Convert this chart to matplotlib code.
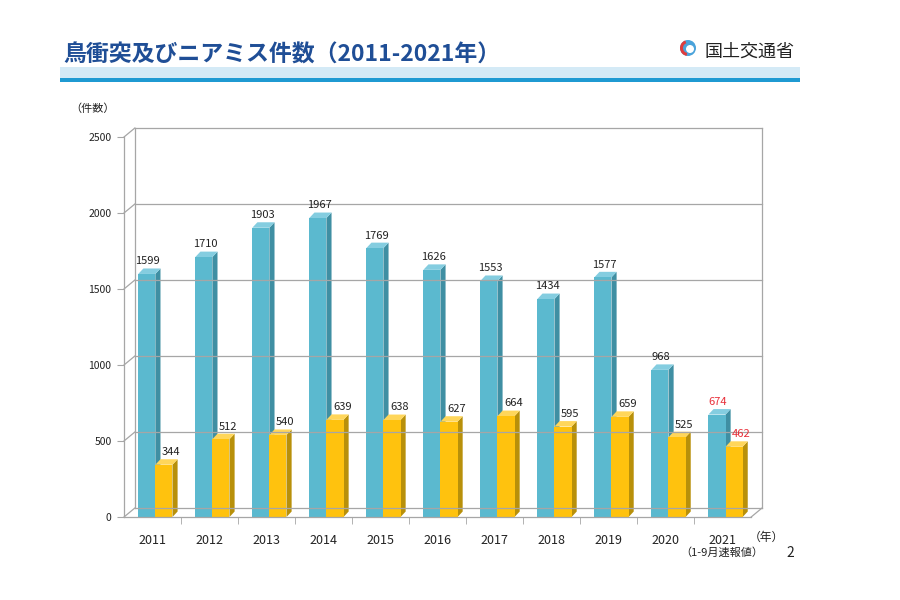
import numpy as np
import matplotlib.pyplot as plt
from matplotlib.patches import Polygon, Rectangle, Circle, Wedge

plt.rcParams['font.family'] = ['Noto Sans CJK JP', 'DejaVu Sans']

years = ['2011', '2012', '2013', '2014', '2015', '2016', '2017', '2018', '2019', '2020', '2021']
bird = [1599, 1710, 1903, 1967, 1769, 1626, 1553, 1434, 1577, 968, 674]
nearmiss = [344, 512, 540, 639, 638, 627, 664, 595, 659, 525, 462]
yticks = [0, 500, 1000, 1500, 2000, 2500]

fig = plt.figure(figsize=(9, 6), dpi=100)

# page decoration in pixel coords
deco = fig.add_axes([0, 0, 1, 1])
deco.set_xlim(0, 900)
deco.set_ylim(600, 0)
deco.set_axis_off()
deco.add_patch(Rectangle((60, 67), 740, 11, color='#d4eaf6', lw=0))
deco.add_patch(Rectangle((60, 78), 740, 4, color='#1f9ad2', lw=0))
deco.text(63, 62, '鳥衝突及びニアミス件数（2011-2021年）', fontsize=16.5, fontweight='bold',
          color='#1f4e96', va='baseline')
deco.add_patch(Circle((688, 48), 8, color='#4aa3db', lw=0))
deco.add_patch(Wedge((688, 48), 8, 100, 250, width=3, color='#e03c3c', lw=0))
deco.add_patch(Circle((690, 49), 4, color='white', lw=0))
deco.text(705, 52, '国土交通省', fontsize=13, color='#222222', va='center')
deco.text(70, 109, '（件数）', fontsize=8, color='#222222', va='center')
deco.text(749, 537, '（年）', fontsize=8.5, color='#222222', va='center')
deco.text(680, 553, '（1-9月速報値）', fontsize=8, color='#222222', va='center')
deco.text(786, 553, '2', fontsize=10, color='#222222', va='center')

# chart axes
ax = fig.add_axes([124 / 900, 83 / 600, 638 / 900, 380 / 600])
n = len(years)
xmax = n - 0.5 + 0.19
ax.set_xlim(-0.5, xmax)
ax.set_ylim(0, 2500)
for s in ax.spines.values():
    s.set_visible(False)

DX, DY = 0.19, 59
grid = '#a6a6a6'
x0 = -0.5
for v in yticks:
    ax.plot([x0, x0 + DX], [v, v + DY], color=grid, lw=0.9, clip_on=False)
    ax.plot([x0 + DX, xmax], [v + DY, v + DY], color=grid, lw=0.9, clip_on=False)
ax.plot([x0, x0], [0, 2500], color=grid, lw=0.9, clip_on=False)
ax.plot([x0 + DX, x0 + DX], [DY, 2500 + DY], color=grid, lw=0.9, clip_on=False)
ax.plot([xmax, xmax], [DY, 2500 + DY], color=grid, lw=0.9, clip_on=False)
ax.plot([x0, xmax - DX], [0, 0], color=grid, lw=0.9, clip_on=False)
ax.plot([xmax - DX, xmax], [0, DY], color=grid, lw=0.9, clip_on=False)


def bar3d(x, w, h, front, side, top):
    bdx, bdy = 0.09, 36
    ax.add_patch(Polygon([(x + w, 0), (x + w, h), (x + w + bdx, h + bdy), (x + w + bdx, bdy)],
                         closed=True, facecolor=side, edgecolor='none', clip_on=False))
    ax.add_patch(Polygon([(x, h), (x + w, h), (x + w + bdx, h + bdy), (x + bdx, h + bdy)],
                         closed=True, facecolor=top, edgecolor='none', clip_on=False))
    ax.add_patch(Rectangle((x, 0), w, h, facecolor=front, edgecolor='none', clip_on=False))


w = 0.3
for i in range(n):
    bar3d(i - 0.25, w, bird[i], '#5bb9cf', '#3f8fa3', '#84cde0')
    bar3d(i + 0.05, w, nearmiss[i], '#ffc20e', '#b8900a', '#ffd65a')
    col = '#e8303a' if i == n - 1 else '#222222'
    ax.text(i - 0.08, bird[i] + 50, str(bird[i]), ha='center', va='bottom',
            fontsize=8, color=col)
    ax.text(i + 0.33, nearmiss[i] + 50, str(nearmiss[i]), ha='center', va='bottom',
            fontsize=8, color=col)

ax.set_yticks(yticks)
ax.set_yticklabels([str(v) for v in yticks], fontsize=7.5, color='#222222')
ax.tick_params(axis='y', length=5, color=grid, pad=4)
ax.set_xticks(range(n))
ax.set_xticklabels(years, fontsize=9, color='#222222')
ax.tick_params(axis='x', which='major', length=0, pad=12)
ax.set_xticks(np.arange(0.5, n - 1, 1.0), minor=True)
ax.tick_params(axis='x', which='minor', length=5, color=grid)

# legend
deco.add_patch(Rectangle((174, 159), 9, 9, color='#5bb9cf', lw=0))
deco.text(188, 164, '鳥衝突件数', fontsize=10.5, color='#222222', va='center')
deco.add_patch(Rectangle((293, 159), 9, 9, color='#ffc20e', lw=0))
deco.text(306, 164, 'ニアミス件数', fontsize=10.5, color='#222222', va='center')

fig.savefig('out.png', dpi=100)
